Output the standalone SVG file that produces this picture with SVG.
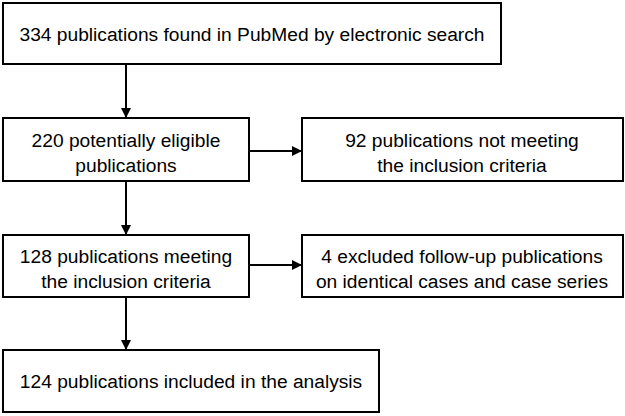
<svg xmlns="http://www.w3.org/2000/svg" width="625" height="416" viewBox="0 0 625 416">
<style>
.box{fill:#fff;stroke:#000;stroke-width:2}
.t{font-family:"Liberation Sans",Arial,sans-serif;font-size:19.2px;fill:#000;text-anchor:middle}
.c{stroke:#000;stroke-width:2;fill:none;marker-end:url(#ah)}
</style>
<defs>
<marker id="ah" viewBox="0 0 10 10" refX="10" refY="5" markerWidth="5" markerHeight="5" markerUnits="strokeWidth" orient="auto">
<path d="M0,0 L10,5 L0,10 z" fill="#000"/>
</marker>
</defs>
<rect width="625" height="416" fill="#fff"/>
<g id="connectors">
<line class="c" x1="126" y1="64" x2="126" y2="118"/>
<line class="c" x1="249" y1="151" x2="302" y2="151"/>
<line class="c" x1="126" y1="181" x2="126" y2="235"/>
<line class="c" x1="249" y1="265" x2="302" y2="265"/>
<line class="c" x1="126" y1="297" x2="126" y2="350"/>
</g>
<g id="n1">
<rect class="box" x="3" y="3" width="498" height="61"/>
<text class="t" x="252" y="41">334 publications found in PubMed by electronic search</text>
</g>
<g id="n2">
<rect class="box" x="3" y="118" width="246" height="63"/>
<text class="t" x="126" y="147">220 potentially eligible</text>
<text class="t" x="126" y="172">publications</text>
</g>
<g id="n3">
<rect class="box" x="302" y="118" width="321" height="63"/>
<text class="t" x="462" y="147">92 publications not meeting</text>
<text class="t" x="462" y="172">the inclusion criteria</text>
</g>
<g id="n4">
<rect class="box" x="3" y="235" width="246" height="62"/>
<text class="t" x="126" y="263">128 publications meeting</text>
<text class="t" x="126" y="288">the inclusion criteria</text>
</g>
<g id="n5">
<rect class="box" x="302" y="235" width="321" height="62"/>
<text class="t" x="462" y="263">4 excluded follow-up publications</text>
<text class="t" x="462" y="288">on identical cases and case series</text>
</g>
<g id="n6">
<rect class="box" x="3" y="350" width="376" height="62"/>
<text class="t" x="191" y="388">124 publications included in the analysis</text>
</g>
</svg>
